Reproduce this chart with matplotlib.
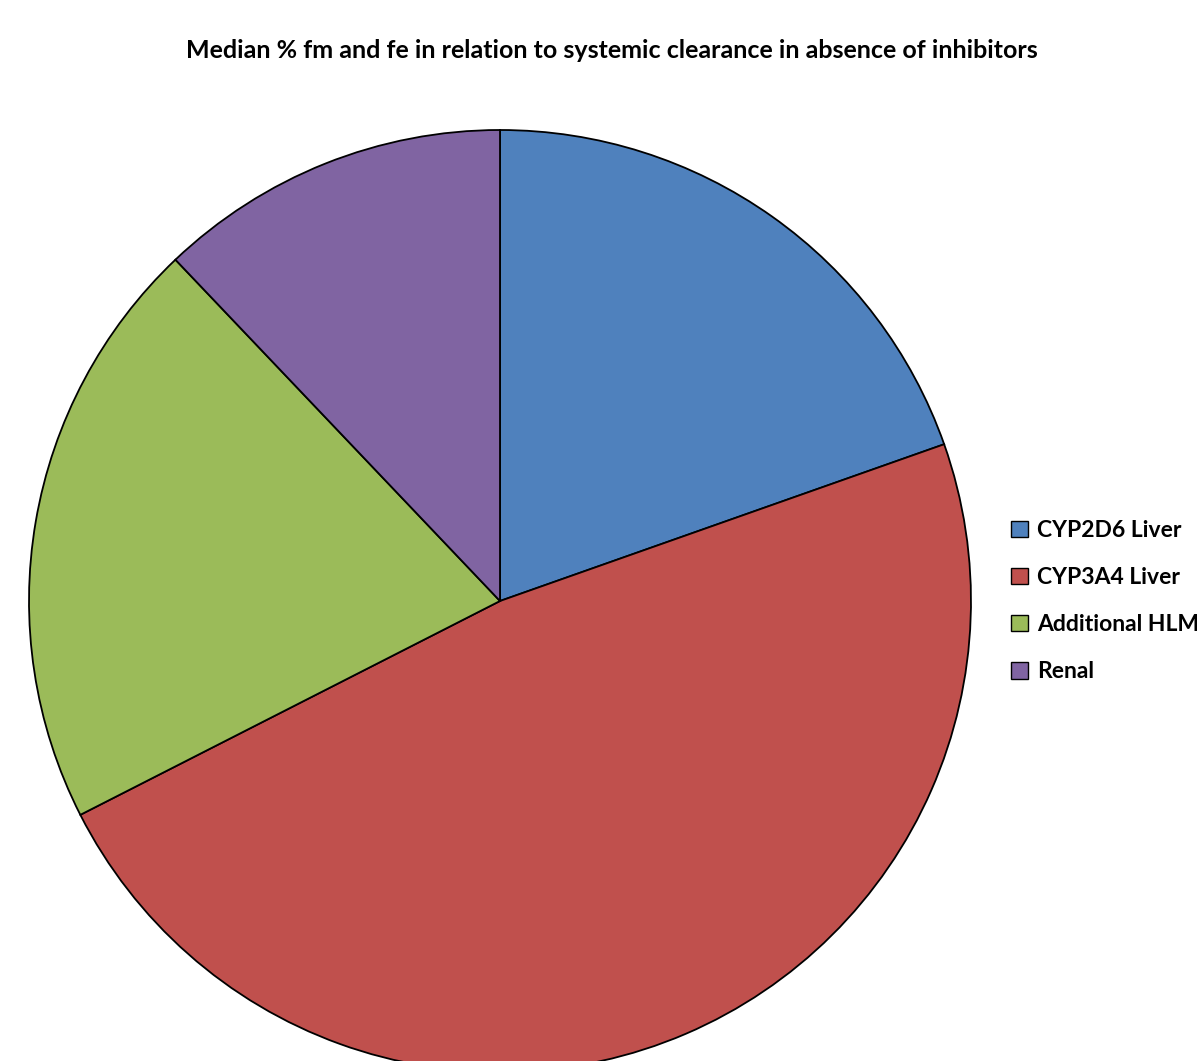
import matplotlib
matplotlib.use("Agg")
import matplotlib.pyplot as plt
from matplotlib.patches import Patch

# median share of systemic clearance (%)
labels = ["CYP2D6 Liver", "CYP3A4 Liver", "Additional HLM", "Renal"]
shares = [19.6, 47.9, 20.4, 12.1]
colors = ["#4F81BD", "#C0504D", "#9BBB59", "#8064A2"]

plt.rcParams['font.family'] = ['Lato', 'DejaVu Sans']

W, H = 1197, 1061
fig = plt.figure(figsize=(W / 100, H / 100), dpi=100)
fig.patch.set_facecolor("white")

# pie centre at (500, 601) px, radius 471 px
cx, cy, r = 500, 601, 471
ax = fig.add_axes([(cx - r) / W, (H - cy - r) / H, 2 * r / W, 2 * r / H])
wedges, _ = ax.pie(shares, colors=colors, startangle=90, counterclock=False,
                   radius=1, wedgeprops=dict(edgecolor="black", linewidth=1.3))
ax.set_xlim(-1, 1)
ax.set_ylim(-1, 1)
ax.set_aspect("equal")
ax.axis("off")

fig.text(612 / W, 1 - 50 / H,
         "Median % fm and fe in relation to systemic clearance in absence of inhibitors",
         ha="center", va="center", fontsize=18, fontweight="bold")

handles = [Patch(facecolor=c, edgecolor="black", linewidth=1) for c in colors]
leg = fig.legend(handles, labels, loc="upper left",
                 bbox_to_anchor=(1011 / W, 1 - 520 / H),
                 frameon=False, prop=dict(size=16.5, weight="bold"),
                 handlelength=0.72, handleheight=0.72, handletextpad=0.42,
                 labelspacing=1.14, borderpad=0, borderaxespad=0)

fig.savefig("out.png", dpi=100)
